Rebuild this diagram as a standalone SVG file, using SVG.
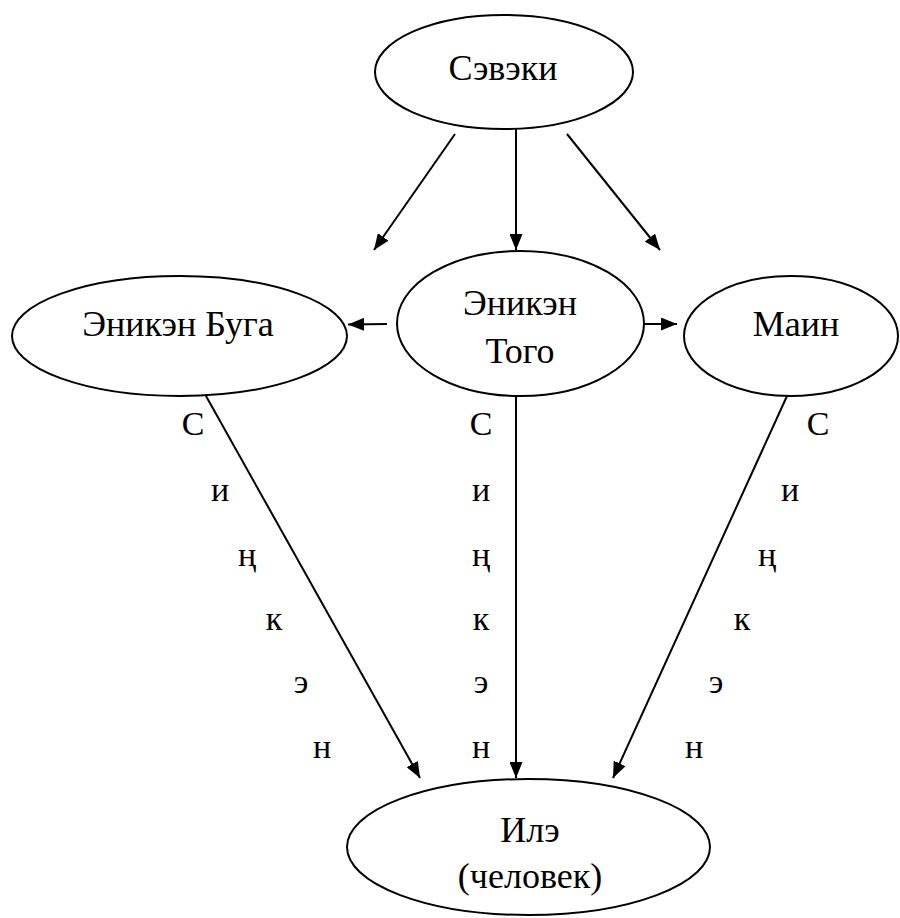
<svg xmlns="http://www.w3.org/2000/svg" width="900" height="918" viewBox="0 0 900 918" xml:lang="ru">
<defs>
<marker id="ah" markerUnits="userSpaceOnUse" markerWidth="17" markerHeight="13" refX="16" refY="6.5" orient="auto">
<path d="M0,0 L16,6.5 L0,13 z" fill="#000"/>
</marker>
</defs>
<rect width="900" height="918" fill="#fff"/>
<g id="connectors" stroke="#000" stroke-width="2" marker-end="url(#ah)">
<line x1="455" y1="134" x2="374" y2="250"/>
<line x1="516" y1="129" x2="516" y2="250"/>
<line x1="567" y1="134" x2="660" y2="250"/>
<line x1="387" y1="324" x2="348" y2="324.5"/>
<line x1="637" y1="324" x2="677" y2="324"/>
<line x1="206" y1="396" x2="420" y2="778"/>
<line x1="516" y1="396" x2="516" y2="778"/>
<line x1="787" y1="396" x2="613" y2="778"/>
</g>
<g id="n-seveki">
<ellipse cx="504" cy="72" rx="129" ry="57" fill="#fff" stroke="#000" stroke-width="2"/>
<text x="503" y="80" font-family="'Liberation Serif', serif" font-size="36" text-anchor="middle">Сэвэки</text>
</g>
<g id="n-buga">
<ellipse cx="179.5" cy="336" rx="167.5" ry="60" fill="#fff" stroke="#000" stroke-width="2"/>
<text x="178" y="336" font-family="'Liberation Serif', serif" font-size="36" text-anchor="middle">Эникэн Буга</text>
</g>
<g id="n-togo">
<ellipse cx="520.5" cy="323.5" rx="123.5" ry="72.5" fill="#fff" stroke="#000" stroke-width="2"/>
<text x="520" y="315" font-family="'Liberation Serif', serif" font-size="36" text-anchor="middle">Эникэн</text>
<text x="520" y="363" font-family="'Liberation Serif', serif" font-size="36" text-anchor="middle">Того</text>
</g>
<g id="n-main">
<ellipse cx="791" cy="336" rx="107" ry="60" fill="#fff" stroke="#000" stroke-width="2"/>
<text x="796" y="336" font-family="'Liberation Serif', serif" font-size="36" text-anchor="middle">Маин</text>
</g>
<g id="n-ile">
<ellipse cx="528.5" cy="847" rx="181.5" ry="68" fill="#fff" stroke="#000" stroke-width="2"/>
<text x="530" y="842" font-family="'Liberation Serif', serif" font-size="36" text-anchor="middle">Илэ</text>
<text x="530" y="888" font-family="'Liberation Serif', serif" font-size="36" text-anchor="middle">(человек)</text>
</g>
<g id="label-left">
<text x="193" y="435" font-family="'Liberation Serif', serif" font-size="34" text-anchor="middle">С</text>
<text x="220" y="501" font-family="'Liberation Serif', serif" font-size="34" text-anchor="middle">и</text>
<text x="247" y="566" font-family="'Liberation Serif', serif" font-size="34" text-anchor="middle">ң</text>
<text x="274" y="630" font-family="'Liberation Serif', serif" font-size="34" text-anchor="middle">к</text>
<text x="301" y="693" font-family="'Liberation Serif', serif" font-size="34" text-anchor="middle">э</text>
<text x="322" y="758" font-family="'Liberation Serif', serif" font-size="34" text-anchor="middle">н</text>
</g>
<g id="label-middle">
<text x="481" y="435" font-family="'Liberation Serif', serif" font-size="34" text-anchor="middle">С</text>
<text x="481" y="501" font-family="'Liberation Serif', serif" font-size="34" text-anchor="middle">и</text>
<text x="481" y="566" font-family="'Liberation Serif', serif" font-size="34" text-anchor="middle">ң</text>
<text x="481" y="630" font-family="'Liberation Serif', serif" font-size="34" text-anchor="middle">к</text>
<text x="481" y="693" font-family="'Liberation Serif', serif" font-size="34" text-anchor="middle">э</text>
<text x="481" y="758" font-family="'Liberation Serif', serif" font-size="34" text-anchor="middle">н</text>
</g>
<g id="label-right">
<text x="818" y="435" font-family="'Liberation Serif', serif" font-size="34" text-anchor="middle">С</text>
<text x="790" y="501" font-family="'Liberation Serif', serif" font-size="34" text-anchor="middle">и</text>
<text x="767" y="566" font-family="'Liberation Serif', serif" font-size="34" text-anchor="middle">ң</text>
<text x="742" y="630" font-family="'Liberation Serif', serif" font-size="34" text-anchor="middle">к</text>
<text x="716" y="693" font-family="'Liberation Serif', serif" font-size="34" text-anchor="middle">э</text>
<text x="694" y="758" font-family="'Liberation Serif', serif" font-size="34" text-anchor="middle">н</text>
</g>
</svg>
